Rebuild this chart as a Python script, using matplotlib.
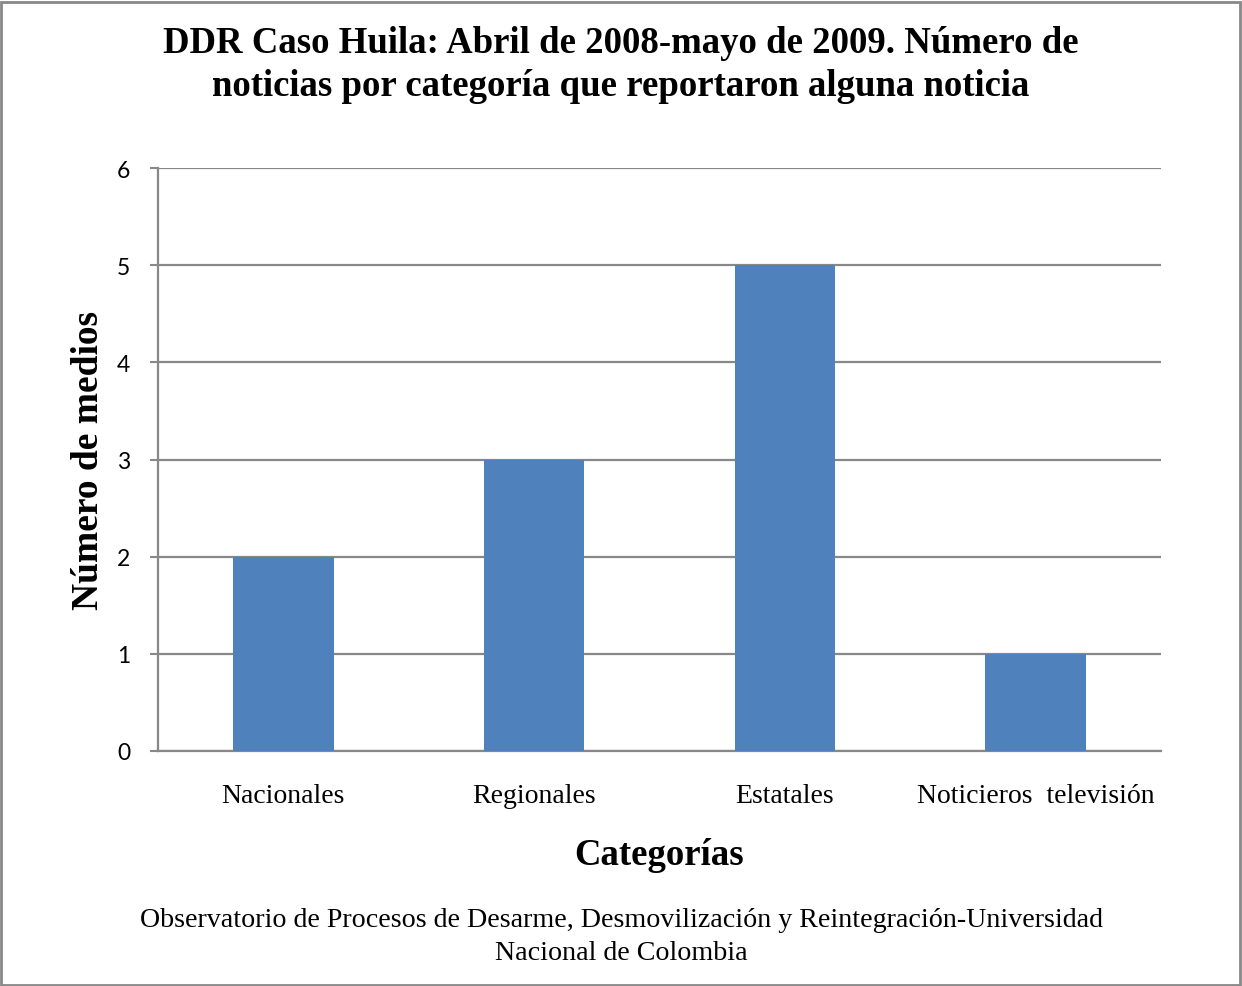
import matplotlib
matplotlib.use("Agg")
import matplotlib.pyplot as plt
from matplotlib.patches import Rectangle

categories = ["Nacionales", "Regionales", "Estatales", "Noticieros  televisión"]
values = [2, 3, 5, 1]
yticks = [0, 1, 2, 3, 4, 5, 6]

title = "DDR Caso Huila: Abril de 2008-mayo de 2009. Número de\nnoticias por categoría que reportaron alguna noticia"
footer = "Observatorio de Procesos de Desarme, Desmovilización y Reintegración-Universidad\nNacional de Colombia"

serif = ["Liberation Serif", "DejaVu Serif"]
sans = ["Lato", "DejaVu Sans"]

fig = plt.figure(figsize=(12.42, 9.87), dpi=100)
ax = fig.add_axes([158/1242, 1-752/987, (1161-158)/1242, (752-169)/987])

x = list(range(len(categories)))
ax.bar(x, values, width=0.4, color="#4F81BD", zorder=3)
ax.set_xlim(-0.5, len(categories)-0.5)
ax.set_ylim(0, 6)
ax.set_yticks(yticks)
ax.set_yticklabels([str(v) for v in yticks], fontfamily=sans, fontsize=16.5)
ax.set_xticks(x)
ax.set_xticklabels(categories, fontfamily=serif, fontsize=20)
ax.tick_params(axis="x", length=0, pad=23)
ax.tick_params(axis="y", length=6, width=1.5, color="#888888", pad=14)
ax.grid(axis="y", color="#888888", linewidth=1.6, zorder=0)
for s in ["top", "right"]:
    ax.spines[s].set_visible(False)
for s in ["left", "bottom"]:
    ax.spines[s].set_color("#888888")
    ax.spines[s].set_linewidth(1.6)

ax.set_xlabel("Categorías", fontfamily=serif, fontsize=26.5, fontweight="bold", labelpad=21)
ax.set_ylabel("Número de medios", fontfamily=serif, fontsize=27, fontweight="bold", labelpad=8)

fig.text(0.5, 1-65/987, title, ha="center", va="center", fontfamily=serif,
         fontsize=26.5, fontweight="bold", linespacing=1.3)
fig.text(0.5, 1-937/987, footer, ha="center", va="center", fontfamily=serif,
         fontsize=20.2, linespacing=1.45)

fig.add_artist(Rectangle((0.001, 0.001), 0.997, 0.996, transform=fig.transFigure,
                         fill=False, edgecolor="#888888", linewidth=2))

fig.savefig("out.png", dpi=100, facecolor="white")
